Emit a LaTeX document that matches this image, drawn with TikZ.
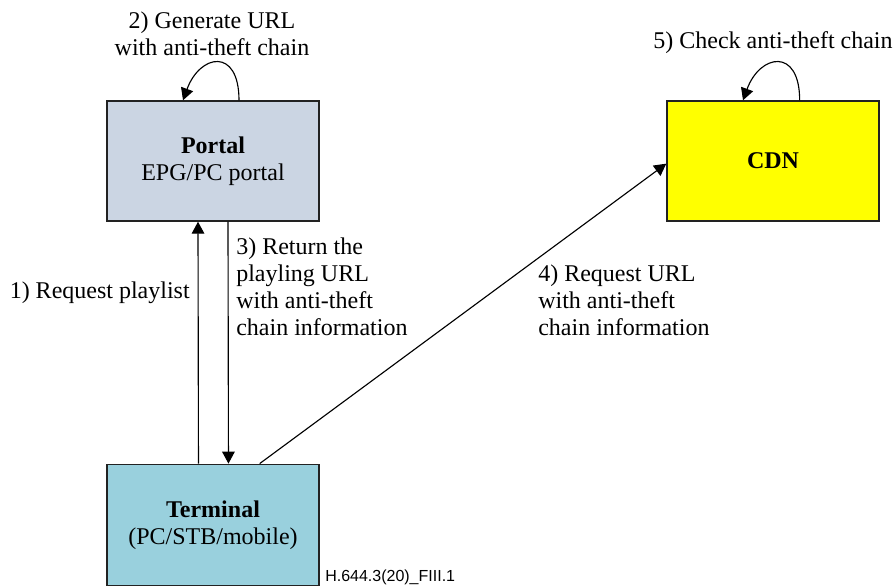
\documentclass[tikz,border=0pt]{standalone}
\usepackage{fontspec}
\setmainfont{Liberation Serif}
\setsansfont{Liberation Sans}
\usepackage{xcolor}
\usepackage{tikz}
\usetikzlibrary{positioning,arrows.meta}
\definecolor{portalfill}{HTML}{CBD5E3}
\definecolor{termfill}{HTML}{99D0DD}
\definecolor{cdnfill}{HTML}{FFFF00}
\definecolor{edge}{HTML}{222222}

\begin{document}
\begin{tikzpicture}[
        x=0.75pt, y=0.75pt,
        node distance=273pt,
        font=\fontsize{18}{20.25}\selectfont,
        box/.style={
            rectangle,
            draw=edge,
            line width=1.1pt,
            align=center,
            minimum width=159pt,
            minimum height=90pt,
            inner sep=0pt
        },
        note/.style={
            align=left,
            inner sep=0pt
        },
        arrow/.style={
            -{Triangle[length=9pt,width=9.5pt]},
            line width=0.85pt,
            color=black
        },
        selfloop/.style={
            arrow,
            out=90, in=70,
            out distance=40pt, in distance=37pt
        }
    ]
        \useasboundingbox (0,0) rectangle (894,-586);

        \node (portal) [box, fill=portalfill] at (213,-161) {\textbf{Portal}\\EPG/PC portal};
        \node (cdn) [box, fill=cdnfill, right of=portal, node distance=420pt] {\textbf{CDN}};
        \node (term) [box, fill=termfill, below of=portal, minimum height=91pt] {\textbf{Terminal}\\(PC/STB/mobile)};

        % labels
        \node (genlbl) [note, align=center] at (212,-34) {2) Generate URL\\with anti-theft chain};
        \node (chklbl) [note, align=center] at (773,-43) {5) Check anti-theft chain};
        \node (reqlbl) [note, anchor=east] at (190,-293) {1) Request playlist};
        \node (retlbl) [note, anchor=west] at (236,-287) {3) Return the\\playling URL\\with anti-theft\\chain information};
        \node (urllbl) [note, anchor=west] at (538,-300) {4) Request URL\\with anti-theft\\chain information};
        \node (figid) [anchor=south west, inner sep=0pt, font=\sffamily\fontsize{12}{12}\selectfont] at (325,-585) {H.644.3(20)\_FIII.1};

        % messages
        \draw[arrow] ([xshift=-10.9pt]term.north) -- ([xshift=-11.25pt]portal.south);
        \draw[arrow] ([xshift=11.25pt]portal.south) -- ([xshift=11.6pt]term.north);
        \draw[arrow] ([xshift=35pt]term.north) -- ([yshift=-2pt]cdn.west);
        \draw[selfloop] ([xshift=19.5pt]portal.north) to ([xshift=-22.5pt]portal.north);
        \draw[selfloop] ([xshift=20pt]cdn.north) to ([xshift=-22.5pt]cdn.north);
    \end{tikzpicture}
\end{document}
